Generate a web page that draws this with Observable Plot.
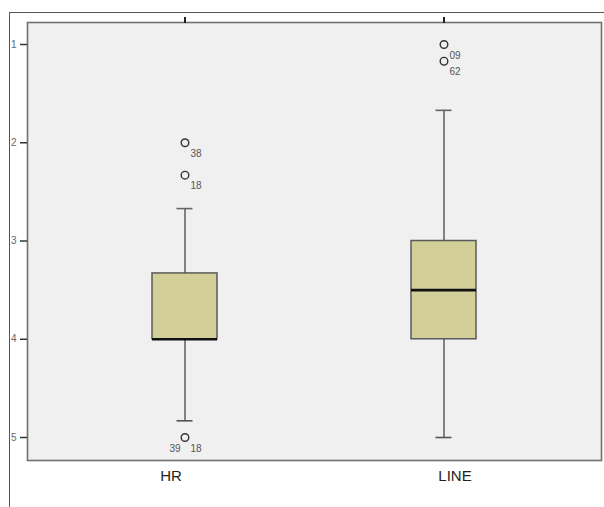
<!DOCTYPE html>
<html>
<head>
<meta charset="utf-8">
<script src="https://cdn.jsdelivr.net/npm/d3@7"></script>
<script src="https://cdn.jsdelivr.net/npm/@observablehq/plot@0.6"></script>
<style>
  html, body { margin: 0; padding: 0; background: #fff; }
  #wrap { position: relative; width: 604px; height: 507px; overflow: hidden; }
  #outer { position: absolute; left: 9px; top: 12px; right: -2px; bottom: -2px;
           border-left: 1.5px solid #555; border-top: 1.5px solid #555; }
  #chart { position: absolute; left: 0; top: 0; }
</style>
</head>
<body>
<div id="wrap"><div id="outer"></div><div id="chart"></div></div>
<script>
// Box statistics per category (y axis: 1 at top, 5 at bottom)
const categories = ["HR", "LINE"];
const whiskerTop = [2.67, 1.67];
const q1 = [3.33, 3.0];
const median = [4.0, 3.5];
const q3 = [4.0, 4.0];
const whiskerBottom = [4.83, 5.0];

// Outliers
const outlierCategory = ["HR", "HR", "HR", "LINE", "LINE"];
const outlierValue = [2.0, 2.33, 5.0, 1.0, 1.17];
const outlierIds = [["38"], ["18"], ["39", "18"], ["09"], ["62"]];

// Axis ticks
const yTicks = [1, 2, 3, 4, 5];
const yTickLabels = ["1", "2", "3", "4", "5"];

const stats = categories.map((c, i) => ({
  cat: c, lo: whiskerTop[i], q1: q1[i], med: median[i], q3: q3[i], hi: whiskerBottom[i]
}));
const outliers = outlierCategory.map((c, i) => ({cat: c, value: outlierValue[i]}));
const labelsRight = [], labelsLeft = [];
outlierIds.forEach((ids, i) => {
  if (ids.length === 1) labelsRight.push({cat: outlierCategory[i], value: outlierValue[i], id: ids[0]});
  else {
    labelsLeft.push({cat: outlierCategory[i], value: outlierValue[i], id: ids[0]});
    labelsRight.push({cat: outlierCategory[i], value: outlierValue[i], id: ids[1]});
  }
});

const boxInset = 69;
const capInset = 93.5;
const xLabelShift = [-14, 11]; // label offsets seen in the reference

const plot = Plot.plot({
  width: 604,
  height: 507,
  marginTop: 22,
  marginBottom: 47,
  marginLeft: 27,
  marginRight: 3,
  style: {fontFamily: "'Liberation Sans', Arial, sans-serif", background: "transparent"},
  x: {type: "band", domain: categories, padding: 0.216, label: null},
  y: {domain: [0.776, 5.234], reverse: true, label: null},
  marks: [
    Plot.frame({fill: "#f0f0f0", stroke: null}),
    // whiskers
    Plot.ruleX(stats, {x: "cat", y1: "lo", y2: "q1", stroke: "#666", strokeWidth: 1.6}),
    Plot.ruleX(stats, {x: "cat", y1: "q3", y2: "hi", stroke: "#666", strokeWidth: 1.6}),
    Plot.tickY(stats, {x: "cat", y: "lo", stroke: "#666", strokeWidth: 1.6, insetLeft: capInset, insetRight: capInset}),
    Plot.tickY(stats, {x: "cat", y: "hi", stroke: "#555", strokeWidth: 1.6, insetLeft: capInset, insetRight: capInset}),
    // boxes
    Plot.rectY(stats, {x: "cat", y1: "q1", y2: "q3", fill: "#d3cf98", stroke: "#5a5a5a", strokeWidth: 1.5,
      insetLeft: boxInset, insetRight: boxInset}),
    Plot.tickY(stats, {x: "cat", y: "med", stroke: "#111", strokeWidth: 2.6, insetLeft: boxInset, insetRight: boxInset}),
    // outliers
    Plot.dot(outliers, {x: "cat", y: "value", r: 3.8, stroke: "#333", strokeWidth: 1.4, fill: "none"}),
    Plot.text(labelsRight, {x: "cat", y: "value", text: "id", dx: 11, dy: 11, fontSize: 10, fill: "#555"}),
    Plot.text(labelsLeft, {x: "cat", y: "value", text: "id", dx: -10, dy: 11, fontSize: 10, fill: "#555"}),
    Plot.frame({stroke: "#707070", strokeWidth: 1.6}),
    // axes
    Plot.axisY({ticks: yTicks, tickFormat: (d) => yTickLabels[yTicks.indexOf(d)], tickSize: 7, tickPadding: 4,
      fontSize: 10, color: "#666", stroke: "#333", strokeWidth: 1.5, label: null}),
    Plot.axisX({anchor: "top", tickSize: 6, tickFormat: () => "", stroke: "#222", strokeWidth: 2, label: null}),
    ...categories.map((c, i) => Plot.axisX({anchor: "bottom", ticks: [c], tickSize: 0, tickPadding: 10,
      dx: xLabelShift[i], fontSize: 15, color: "#222", label: null}))
  ]
});
document.getElementById("chart").appendChild(plot);
</script>
</body>
</html>
